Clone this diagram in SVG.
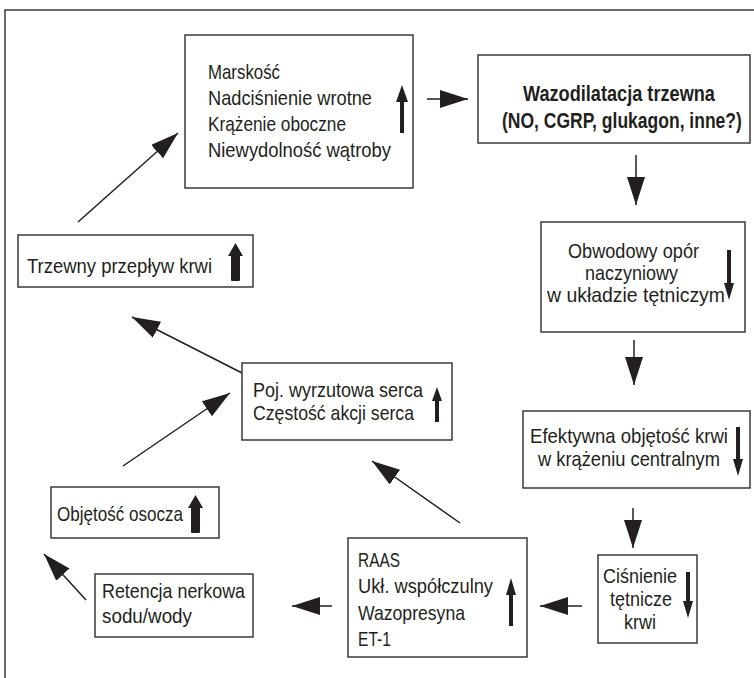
<svg xmlns="http://www.w3.org/2000/svg" width="754" height="678" viewBox="0 0 754 678">
<style>
.box{fill:#fff;stroke:#3a3a3a;stroke-width:1.5}
.t{font-family:"Liberation Sans Narrow","Liberation Sans",Arial,sans-serif;font-size:21px;fill:#231f20}
.b{font-family:"Liberation Sans",Arial,sans-serif;font-size:22px;font-weight:bold;fill:#231f20}
.c{stroke:#231f20;stroke-width:1.5;fill:none;marker-end:url(#ah)}
.ind{fill:#231f20}
.frame{stroke:#3a3a3a;stroke-width:1.5;fill:none}
</style>
<defs>
<marker id="ah" markerUnits="userSpaceOnUse" markerWidth="30" markerHeight="20" refX="28" refY="9" orient="auto">
<path d="M0,0 L28,9 L0,18 Z" fill="#231f20"/>
</marker>
</defs>
<path class="frame" d="M5,678 L5,10 L754,10"/>

<g id="connectors">
<line class="c" x1="427" y1="99" x2="468" y2="99"/>
<line class="c" x1="636" y1="155" x2="636" y2="205"/>
<line class="c" x1="634" y1="340" x2="634" y2="385"/>
<line class="c" x1="633" y1="508" x2="633" y2="548"/>
<line class="c" x1="582" y1="606" x2="540" y2="606"/>
<line class="c" x1="332" y1="606" x2="292" y2="606"/>
<line class="c" x1="86" y1="600" x2="44" y2="554"/>
<line class="c" x1="123" y1="466" x2="230" y2="393"/>
<line class="c" x1="460" y1="523" x2="372" y2="461"/>
<line class="c" x1="244" y1="374" x2="132" y2="317"/>
<line class="c" x1="78" y1="222" x2="178" y2="133"/>
</g>

<g id="marskosc">
<rect class="box" x="185" y="35" width="228" height="153"/>
<text class="t" x="208" y="79" textLength="72" lengthAdjust="spacingAndGlyphs">Marskość</text>
<text class="t" x="208" y="105" textLength="164" lengthAdjust="spacingAndGlyphs">Nadciśnienie wrotne</text>
<text class="t" x="208" y="131" textLength="138" lengthAdjust="spacingAndGlyphs">Krążenie oboczne</text>
<text class="t" x="208" y="157" textLength="183" lengthAdjust="spacingAndGlyphs">Niewydolność wątroby</text>
<path class="ind" d="M402,85 L408,102 L404,102 L404,133 L400,133 L400,102 L396,102 Z"/>
</g>

<g id="wazodilatacja">
<rect class="box" x="478" y="55" width="272" height="88"/>
<text class="b" transform="translate(523,101) scale(0.822,1)" x="0" y="0" textLength="233.5" lengthAdjust="spacingAndGlyphs">Wazodilatacja trzewna</text>
<text class="b" transform="translate(502,128) scale(0.789,1)" x="0" y="0" textLength="304" lengthAdjust="spacingAndGlyphs">(NO, CGRP, glukagon, inne?)</text>
</g>

<g id="opor">
<rect class="box" x="541" y="222" width="204" height="110"/>
<text class="t" x="568" y="258" textLength="131" lengthAdjust="spacingAndGlyphs">Obwodowy opór</text>
<text class="t" x="585" y="280" textLength="93" lengthAdjust="spacingAndGlyphs">naczyniowy</text>
<text class="t" x="547" y="302" textLength="178" lengthAdjust="spacingAndGlyphs">w układzie tętniczym</text>
<path class="ind" d="M729,300 L734,283 L731,283 L731,250 L727,250 L727,283 L724,283 Z"/>
</g>

<g id="objetosc-efektywna">
<rect class="box" x="523" y="411" width="227" height="77"/>
<text class="t" x="530" y="443" textLength="198" lengthAdjust="spacingAndGlyphs">Efektywna objętość krwi</text>
<text class="t" x="538" y="466" textLength="182" lengthAdjust="spacingAndGlyphs">w krążeniu centralnym</text>
<path class="ind" d="M738,476 L743,459 L740,459 L740,427 L736,427 L736,459 L733,459 Z"/>
</g>

<g id="cisnienie">
<rect class="box" x="598" y="555" width="99" height="88"/>
<text class="t" x="603" y="583" textLength="74" lengthAdjust="spacingAndGlyphs">Ciśnienie</text>
<text class="t" x="610" y="606" textLength="62" lengthAdjust="spacingAndGlyphs">tętnicze</text>
<text class="t" x="624" y="629" textLength="32" lengthAdjust="spacingAndGlyphs">krwi</text>
<path class="ind" d="M688,618 L693,601 L690,601 L690,572 L686,572 L686,601 L683,601 Z"/>
</g>

<g id="raas">
<rect class="box" x="348" y="538" width="179" height="119"/>
<text class="t" x="358" y="567" textLength="42" lengthAdjust="spacingAndGlyphs">RAAS</text>
<text class="t" x="358" y="593" textLength="135" lengthAdjust="spacingAndGlyphs">Ukł. współczulny</text>
<text class="t" x="358" y="620" textLength="107" lengthAdjust="spacingAndGlyphs">Wazopresyna</text>
<text class="t" x="358" y="646" textLength="33" lengthAdjust="spacingAndGlyphs">ET-1</text>
<path class="ind" d="M511,578 L516,595 L513,595 L513,626 L509,626 L509,595 L506,595 Z"/>
</g>

<g id="retencja">
<rect class="box" x="95" y="574" width="158" height="63"/>
<text class="t" x="102" y="598" textLength="143" lengthAdjust="spacingAndGlyphs">Retencja nerkowa</text>
<text class="t" x="102" y="623" textLength="90" lengthAdjust="spacingAndGlyphs">sodu/wody</text>
</g>

<g id="objetosc-osocza">
<rect class="box" x="51" y="487" width="168" height="51"/>
<text class="t" x="57" y="521" textLength="126" lengthAdjust="spacingAndGlyphs">Objętość osocza</text>
<path class="ind" d="M195.5,495 L203,508 L200,508 L200,532 Q200,533 199,533 L192,533 Q191,533 191,532 L191,508 L188,508 Z"/>
</g>

<g id="pojemnosc">
<rect class="box" x="242" y="363" width="210" height="77"/>
<text class="t" x="253" y="397" textLength="170" lengthAdjust="spacingAndGlyphs">Poj. wyrzutowa serca</text>
<text class="t" x="253" y="420" textLength="161" lengthAdjust="spacingAndGlyphs">Częstość akcji serca</text>
<path class="ind" d="M437,387 L442,401 L439,401 L439,422 L435,422 L435,401 L432,401 Z"/>
</g>

<g id="przeplyw">
<rect class="box" x="18" y="235" width="235" height="52"/>
<text class="t" x="27" y="273" textLength="185" lengthAdjust="spacingAndGlyphs">Trzewny przepływ krwi</text>
<path class="ind" d="M235.5,243 L243,256 L240,256 L240,280 Q240,281 239,281 L232,281 Q231,281 231,280 L231,256 L228,256 Z"/>
</g>
</svg>
